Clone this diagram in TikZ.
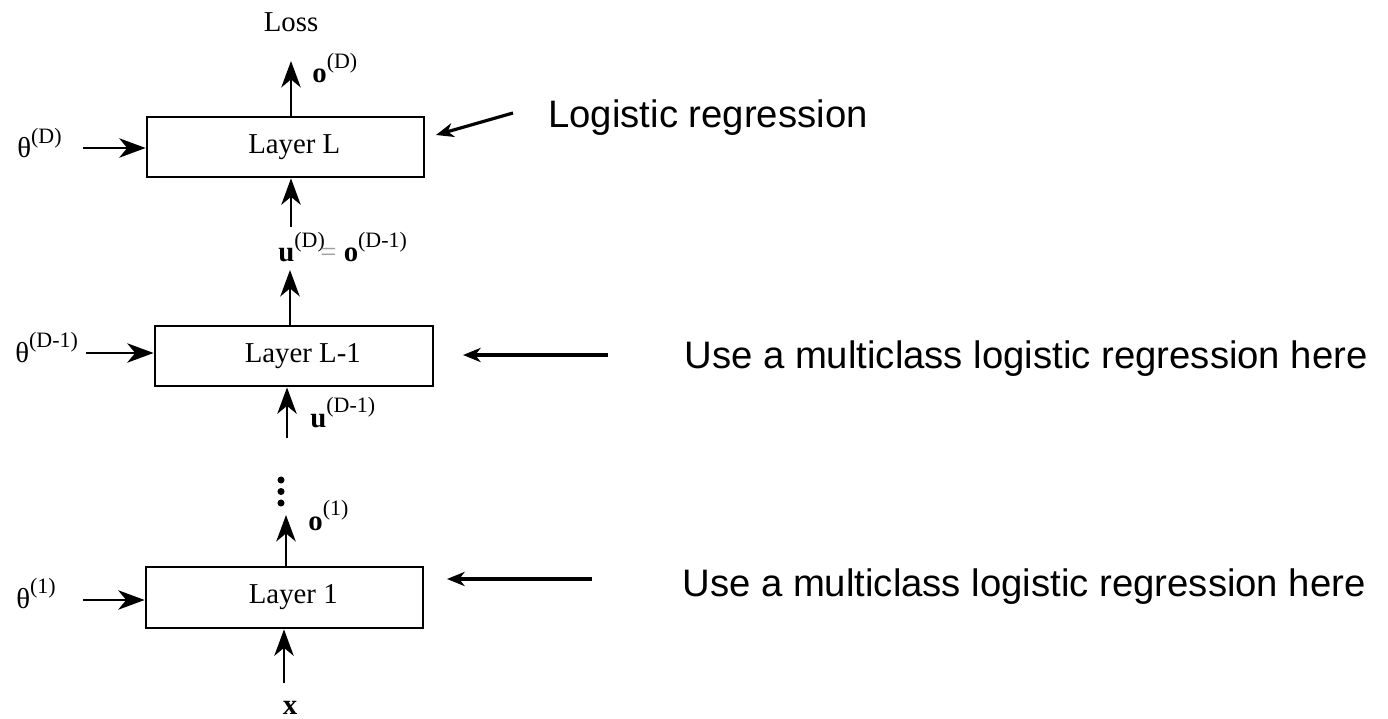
\documentclass[tikz,border=0pt]{standalone}
\usepackage{fontspec}
\setmainfont{Liberation Serif}
\newfontfamily\annfont{Liberation Sans}
\usetikzlibrary{arrows.meta}
\newcommand\supx[1]{\raisebox{0.52em}{\fontsize{12.5}{13}\selectfont #1}}
\begin{document}
\begin{tikzpicture}[x=0.02cm,y=-0.02cm,
  layerbox/.style={draw, line width=1.6pt, minimum width=5.54cm, minimum height=1.2cm, inner sep=0pt,
    font=\fontsize{16.4}{18}\selectfont},
  lab/.style={inner sep=0pt, anchor=base west, font=\fontsize{16.4}{18}\selectfont},
  ann/.style={inner sep=0pt, anchor=base west, font=\annfont\fontsize{21.8}{24}\selectfont},
  arr/.style={line width=1.6pt, -{Stealth[length=15pt, width=11pt, inset=4.5pt]}},
  annarr/.style={line width=1.8pt, -{Stealth[length=10pt, width=8pt, inset=3pt]}},
  dot/.style={circle, fill, inner sep=0pt, minimum size=4pt}
]
\useasboundingbox (0,0) rectangle (1388,719);

% layer boxes
\node[layerbox] (boxL)  at (285.5,147) {\hspace*{10pt}Layer L};
\node[layerbox, minimum width=5.56cm] (boxL1) at (294,356) {\hspace*{10pt}Layer L-1};
\node[layerbox, minimum height=1.22cm] (box1)  at (284.5,597.5) {\hspace*{10pt}Layer 1};

% labels
\node[lab, anchor=base] (loss) at (291,32) {Loss};
\node[lab] (oD) at (312,83) {\textbf{o}\supx{(D)}};
\node[lab] (thD) at (17,158) {θ\supx{(D)}};
\node[lab] (uDoD) at (278,262) {\textbf{u}\supx{(D)}\kern-2.5pt{\color{gray!75}=}\kern4pt\textbf{o}\supx{(D-1)}};
\node[lab] (thD1) at (15,362) {θ\supx{(D-1)}};
\node[lab] (uD1) at (310,427) {\textbf{u}\supx{(D-1)}};
\node[lab] (o1) at (308,530) {\textbf{o}\supx{(1)}};
\node[lab] (th1) at (16,608) {θ\supx{(1)}};
\node[lab, anchor=base] (xin) at (290,714) {\textbf{x}};

% dots
\node[dot] (d1) at (281,480) {};
\node[dot] (d2) at (281,491.5) {};
\node[dot] (d3) at (281,503) {};

% coordinates for free ends
\coordinate (oDtip) at (291,61);
\coordinate (uDtail) at (291,227);
\coordinate (uDtip) at (290,270);
\coordinate (uD1tail) at (287,438);
\coordinate (o1tip) at (286,515);
\coordinate (xtail) at (284,683);
\coordinate (thDtail) at (83,148);
\coordinate (thD1tail) at (86,353);
\coordinate (th1tail) at (83,600);

% vertical arrows
\draw[arr] (boxL.north -| oDtip) -- (oDtip);
\draw[arr] (uDtail) -- (boxL.south -| uDtail);
\draw[arr] (boxL1.north -| uDtip) -- (uDtip);
\draw[arr] (uD1tail) -- (boxL1.south -| uD1tail);
\draw[arr] (box1.north -| o1tip) -- (o1tip);
\draw[arr] (xtail) -- (box1.south -| xtail);

% theta arrows
\draw[arr] (thDtail) -- (boxL.west |- thDtail);
\draw[arr] (thD1tail) -- (boxL1.west |- thD1tail);
\draw[arr] (th1tail) -- (box1.west |- th1tail);

% annotations
\node[ann] (a1) at (548,128) {Logistic regression};
\node[ann] (a2) at (684,368) {Use a multiclass logistic regression here};
\node[ann] (a3) at (682,596) {Use a multiclass logistic regression here};
\coordinate (a1tail) at (513,113);
\coordinate (a1tip) at (436,135);
\coordinate (a2tail) at (608,355);
\coordinate (a2tip) at (463,355);
\coordinate (a3tail) at (592,579);
\coordinate (a3tip) at (447,579);
\draw[annarr] (a1tail) -- (a1tip);
\draw[annarr] (a2tail) -- (a2tip);
\draw[annarr] (a3tail) -- (a3tip);
\end{tikzpicture}
\end{document}
